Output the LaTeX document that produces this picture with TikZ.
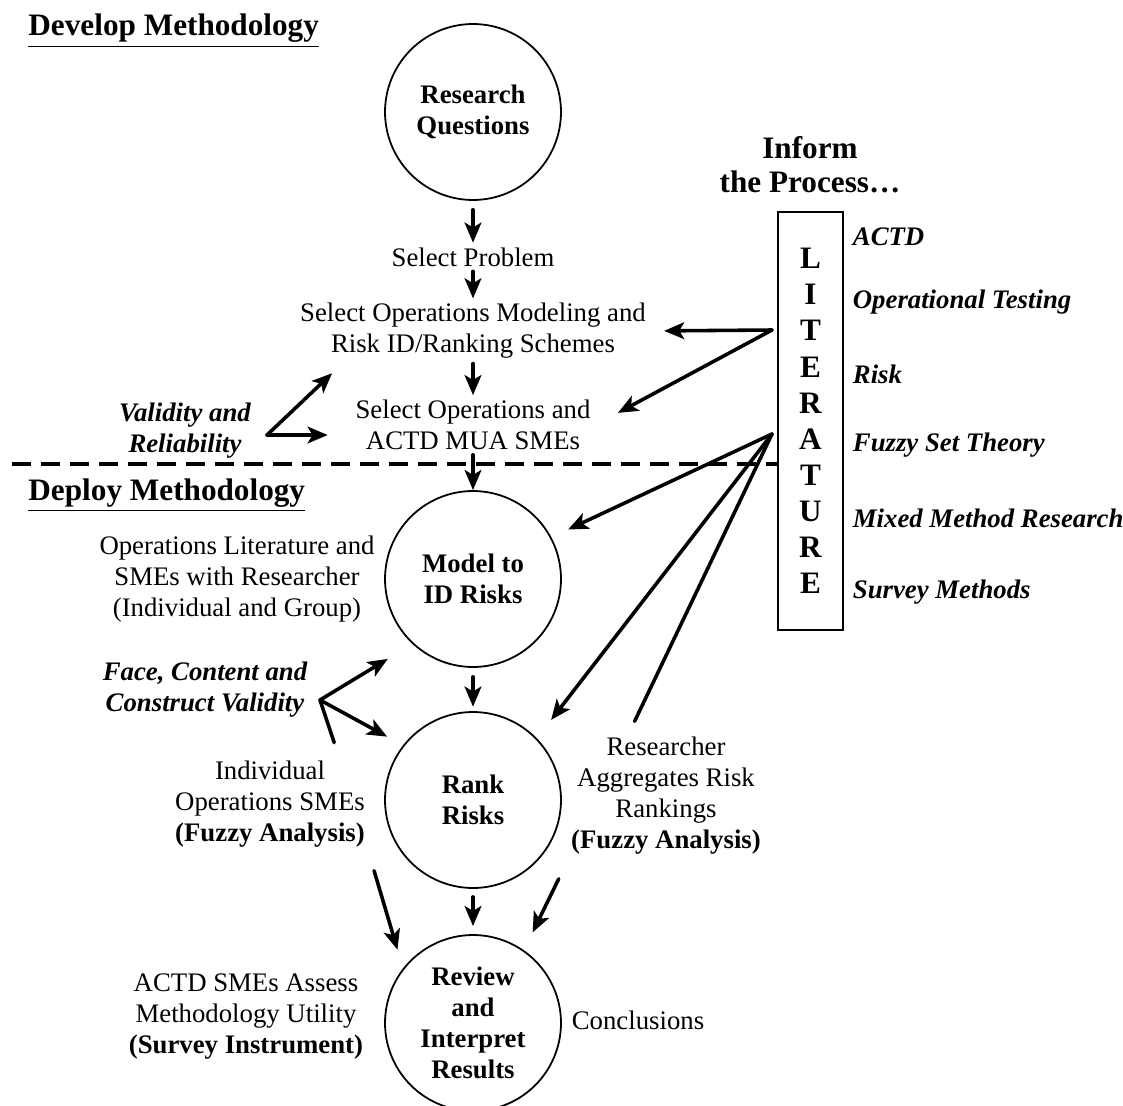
\documentclass[tikz,border=0pt]{standalone}
\usepackage{fontspec}
\setmainfont{Liberation Serif}
\usetikzlibrary{arrows.meta}

\begin{document}
\begin{tikzpicture}[x=44.84pt,y=-44.84pt,
  txt/.style={align=center,inner sep=2pt,font=\fontsize{12}{13.9}\selectfont},
  bftxt/.style={txt,font=\fontsize{12}{13.9}\selectfont\bfseries},
  bitxt/.style={txt,font=\fontsize{12}{13.9}\selectfont\bfseries\itshape},
  head/.style={inner sep=0pt,font=\fontsize{14}{15.2}\selectfont\bfseries},
  stage/.style={bftxt,circle,draw,line width=0.8pt,minimum size=78.9pt,inner sep=0pt},
  litbox/.style={draw,line width=0.9pt,minimum width=29pt,minimum height=187.4pt,inner sep=0pt,align=center,font=\fontsize{14}{16.2}\selectfont\bfseries},
  arr/.style={-{Stealth[length=9pt,width=7.5pt,inset=2.2pt]},line width=1.6pt,line cap=round},
  ln/.style={line width=1.6pt,line cap=round},
  dashline/.style={line width=1.7pt,dash pattern=on 8.5pt off 4.5pt}]
\useasboundingbox (0,0) rectangle (11.23,11.05);
\node[head,anchor=base west] (develop) at (0.28,0.36) {\underline{Develop Methodology}};
\node[head,anchor=base west] (deploy) at (0.28,5.00) {\underline{Deploy Methodology}};
\node[stage] (rq) at (4.73,1.12) {Research\\Questions};
\node[txt] (selprob) at (4.73,2.57) {Select Problem};
\node[txt] (selmod) at (4.73,3.31) {Select Operations Modeling and\\Risk ID/Ranking Schemes};
\node[txt] (selsme) at (4.73,4.25) {Select Operations and\\ACTD MUA SMEs};
\node[stage] (model) at (4.73,5.79) {Model to\\ID Risks};
\node[stage] (rank) at (4.73,8.00) {Rank\\Risks};
\node[stage] (review) at (4.73,10.23) {Review\\and\\Interpret\\Results};
\node[bitxt] (valid) at (1.85,4.31) {Validity and\\Reliability};
\node[txt] (litsme) at (2.37,5.79) {Operations Literature and\\SMEs with Researcher\\(Individual and Group)};
\node[bitxt] (face) at (2.05,6.90) {Face, Content and\\Construct Validity};
\node[txt] (indiv) at (2.70,8.04) {Individual\\Operations SMEs\\\textbf{(Fuzzy Analysis)}};
\node[txt] (aggr) at (6.66,7.96) {Researcher\\Aggregates Risk\\Rankings\\\textbf{(Fuzzy Analysis)}};
\node[txt] (assess) at (2.46,10.17) {ACTD SMEs Assess\\Methodology Utility\\\textbf{(Survey Instrument)}};
\node[txt] (concl) at (6.38,10.20) {Conclusions};
\node[head,align=center] (inform) at (8.10,1.65) {Inform\\the Process\ldots};
\node[litbox] (lit) at (8.105,4.21) {L\\I\\T\\E\\R\\A\\T\\U\\R\\E};
\node[bitxt,anchor=west] (actd) at (8.48,2.37) {ACTD};
\node[bitxt,anchor=west] (optest) at (8.48,3.02) {Operational Testing};
\node[bitxt,anchor=west] (risk) at (8.48,3.74) {Risk};
\node[bitxt,anchor=west] (fuzzy) at (8.48,4.45) {Fuzzy Set Theory};
\node[bitxt,anchor=west] (mixed) at (8.48,5.18) {Mixed Method Research};
\node[bitxt,anchor=west] (survey) at (8.48,5.92) {Survey Methods};
\coordinate (litA) at (7.72,3.30);
\coordinate (litB) at (7.72,4.34);
\coordinate (valvtx) at (2.67,4.35);
\coordinate (facevtx) at (3.20,7.00);
\coordinate (dashstart) at (0.12,4.64);
\draw[dashline] (dashstart) -- (dashstart -| lit.west);
\draw[arr,shorten <=4pt] (rq) -- (selprob);
\draw[arr] (selprob) -- (selmod);
\draw[arr] (selmod) -- (selsme);
\draw[arr] (selsme) -- (model);
\draw[arr,shorten <=4pt,shorten >=2pt] (model) -- (rank);
\draw[arr,shorten <=3.6pt,shorten >=3.6pt] (rank) -- (review);
\draw[arr,shorten >=6pt] (litA) -- (selmod.east);
\draw[arr,shorten >=11.5pt] (litA) -- (selsme.east);
\draw[arr,shorten >=8.2pt] (litB) -- (model.28);
\draw[arr,shorten >=10.4pt] (litB) -- (rank.44);
\draw[ln,shorten >=5.5pt] (litB) -- (aggr.120);
\draw[arr,shorten >=6.3pt] (valvtx) -- (selmod.194);
\draw[arr,shorten >=10.3pt] (valvtx) -- (valvtx -| selsme.west);
\draw[arr,shorten >=12.9pt] (facevtx) -- (model.227);
\draw[arr,shorten >=8.1pt] (facevtx) -- (rank.142);
\draw[ln,shorten >=6.3pt] (facevtx) -- (indiv.35);
\draw[arr,shorten <=8.7pt,shorten >=8.7pt] (indiv.-26) -- (review.142);
\draw[arr,shorten <=9.6pt,shorten >=8.9pt] (aggr.213) -- (review.55);
\end{tikzpicture}
\end{document}
